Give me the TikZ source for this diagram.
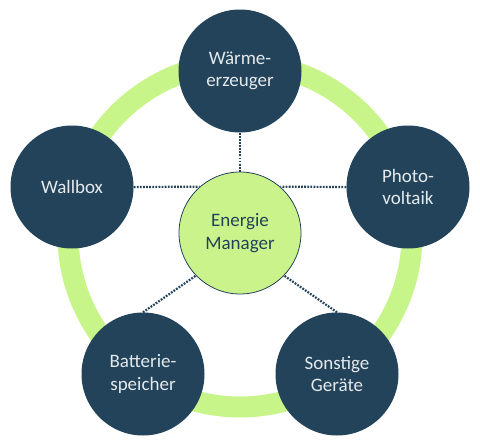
\documentclass[tikz,border=0pt]{standalone}
\usepackage{fontspec}
\setmainfont{Carlito}
\definecolor{darkc}{HTML}{23435A}
\definecolor{ringc}{HTML}{C8F58A}
\definecolor{emc}{HTML}{CBF38C}
\definecolor{txtc}{HTML}{E4E9EC}
\begin{document}
\begin{tikzpicture}[x=1pt,y=-1pt,
  outer/.style={circle,fill=darkc,minimum size=123pt,inner sep=0pt,align=center,
    text=txtc,font=\fontsize{19}{22.5}\selectfont},
  em/.style={circle,fill=emc,draw=darkc,line width=0.8pt,minimum size=122pt,inner sep=0pt,align=center,
    text=darkc,font=\fontsize{19}{23}\selectfont},
  link/.style={draw=darkc,line width=2.2pt,dash pattern=on 1.8pt off 1.3pt}]
\useasboundingbox (0,0) rectangle (480,445);
\coordinate (rc) at (240,235);
\draw[ringc,line width=21pt] (rc) circle (172pt);
\node[em] (m) at (240,233) {Energie\\Manager};
\node[outer] (w) at (240,71) {Wärme-\\erzeuger};
\node[outer] (wb) at (72,187) {Wallbox};
\node[outer] (pv) at (408,187) {Photo-\\voltaik};
\node[outer] (bs) at (143,374) {Batterie-\\speicher};
\node[outer] (sg) at (337,374) {Sonstige\\Geräte};
\draw[link] (w.south) -- (m.north);
\draw[link] (wb.east) -- (m.131);
\draw[link] (pv.west) -- (m.49);
\draw[link] (bs.north) -- (m.224);
\draw[link] (sg.north) -- (m.-44);
\end{tikzpicture}
\end{document}
